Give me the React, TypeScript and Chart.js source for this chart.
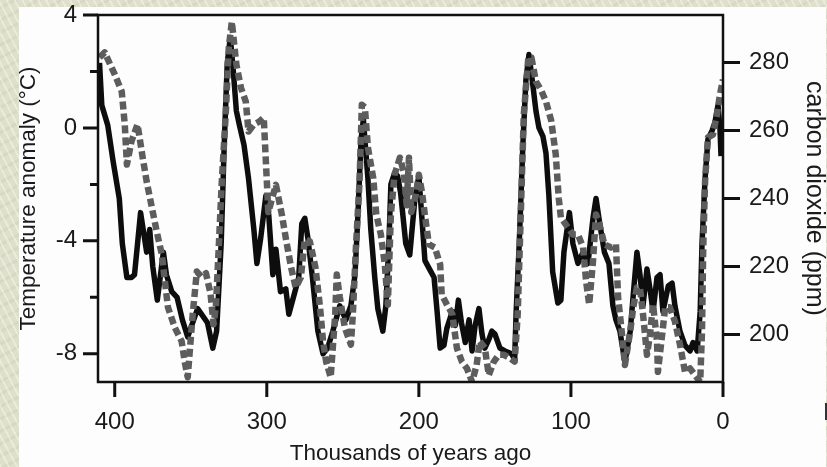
import React, { useEffect, useRef } from 'react';
import { Chart, registerables } from 'chart.js';

Chart.register(...registerables);

// Thousands of years ago (x) and temperature anomaly (°C)
const tempAges = [410, 408.5, 404.6, 401, 397, 395, 392, 389, 387, 385, 383, 381, 379, 377, 375, 372, 368, 366, 362.5, 359, 355.5, 352, 345.5, 339, 335.5, 333, 330, 328, 326, 324, 322, 320, 318, 315, 312, 308.5, 306.5, 304, 300.6, 298.7, 296, 294, 291, 287.5, 285.5, 282, 279, 277, 275, 273, 270, 266.4, 263, 260, 256.6, 252, 248, 244.7, 242, 240, 238, 236.5, 233.5, 231.6, 229, 227, 223.7, 221.7, 219.7, 218.4, 216, 214, 212, 208.6, 206, 202.6, 200, 198, 196, 193, 190, 188, 186, 183.5, 181.6, 178, 176, 174, 172, 169.5, 167, 165, 163, 160.5, 158.5, 156.6, 154, 152, 150, 146.7, 143.4, 139, 137, 136, 134, 131.6, 129.6, 127.6, 125, 123, 121, 118.4, 116.4, 114.5, 112, 108.6, 106.6, 104.6, 101, 98.7, 95.4, 92, 88.8, 85.5, 83.5, 81.6, 78, 75, 72.4, 70.4, 67.8, 64.5, 61, 59, 56.6, 54.6, 52.6, 50, 48, 46, 43.4, 41.4, 39.5, 36, 33.5, 31.6, 28.3, 25, 21.7, 19.7, 17, 15, 13.8, 11.8, 9.9, 7.2, 5.3, 3.3, 2, 1.3];
const tempAnomaly = [2.3, 0.8, 0.1, -1.2, -2.5, -4.1, -5.3, -5.3, -5.2, -4.1, -3.0, -3.7, -4.4, -3.6, -4.9, -6.1, -4.4, -5.2, -5.8, -6.0, -6.8, -7.4, -6.4, -6.9, -7.8, -7.2, -4.1, -0.6, 2.3, 3.2, 2.0, 0.6, 0.1, -0.6, -1.8, -3.6, -4.8, -3.9, -2.4, -3.1, -5.2, -4.3, -5.8, -5.7, -6.6, -5.9, -5.3, -3.4, -3.2, -3.9, -5.3, -7.2, -8.0, -7.8, -7.2, -6.3, -6.8, -6.3, -5.2, -3.0, -0.4, 0.3, -1.8, -3.6, -5.3, -6.4, -7.2, -6.3, -4.1, -2.0, -1.6, -1.7, -2.3, -4.1, -4.5, -2.5, -1.7, -3.2, -4.7, -5.0, -5.3, -6.5, -7.8, -7.7, -7.1, -6.5, -7.0, -6.1, -6.9, -7.6, -6.8, -7.9, -7.0, -6.4, -7.3, -7.8, -7.5, -7.2, -7.3, -7.8, -7.9, -8.0, -8.2, -6.5, -4.1, -0.6, 1.7, 2.6, 1.5, 0.6, 0.0, -0.3, -0.9, -2.4, -5.1, -6.2, -6.1, -4.4, -3.0, -4.1, -4.8, -4.4, -4.8, -3.2, -2.5, -3.2, -4.4, -4.8, -6.3, -6.8, -7.2, -8.3, -7.2, -5.9, -4.4, -5.2, -6.3, -5.0, -5.7, -6.5, -5.3, -5.2, -6.5, -5.6, -5.5, -6.3, -7.2, -7.7, -7.9, -7.6, -7.9, -6.5, -4.1, -1.8, -0.4, -0.1, 0.2, 0.8, 0.0, -1.0];

// Thousands of years ago (x) and carbon dioxide (ppm)
const co2Ages = [410, 406.6, 400, 395.4, 393.4, 392, 389, 385, 381.6, 379, 375.6, 372.4, 369, 367, 365, 360.5, 356, 354, 352, 348.7, 346, 343, 340, 337, 335, 333.5, 331.6, 329.6, 327, 325, 323, 320, 317, 313.8, 312, 308.5, 305, 302, 299, 294, 290, 287, 284, 281, 277.6, 275, 271.7, 268, 265, 263, 261, 258, 255, 254, 252, 248.7, 244.7, 243.4, 241.4, 239, 237.5, 235.5, 233.5, 230, 228, 225, 222.4, 220.4, 218.4, 216, 212.5, 210, 208, 206.5, 205, 202, 200, 198, 196, 193.4, 189.5, 186, 185, 181.6, 178, 175, 171.7, 168.4, 165, 162, 160, 156.6, 154, 150.7, 147.4, 144, 140, 137, 135, 133, 131, 128, 126, 123, 119.7, 116.4, 113, 110, 108, 106.6, 102, 98.7, 95.4, 92, 90, 88, 85.5, 83.5, 81.6, 78, 73.7, 70.4, 69, 66.4, 64.5, 61, 59, 56.6, 54.6, 52.6, 50, 48, 46, 43.4, 42.8, 40, 38, 35, 31.6, 28.3, 25, 21.7, 18.4, 15, 13.8, 13, 11.8, 9.9, 6.6, 4, 2, 0];
const co2Ppm = [281.5, 283, 276.5, 271.5, 261.8, 250, 256.8, 261.8, 252, 245, 237.4, 230.3, 223.5, 215.6, 208, 202, 198, 192, 187.4, 206, 218.5, 217, 218, 212, 203, 208, 225.6, 245, 264.7, 284.4, 292, 279.4, 272.6, 268.5, 259.7, 261.8, 262.6, 263.8, 236, 244, 235, 227, 219.7, 213.8, 216.8, 228, 227.4, 219.7, 208, 198, 192, 187.4, 206, 217.6, 211, 202, 197, 206, 225.6, 245, 267.6, 266.8, 255, 246, 235.3, 229.4, 220.6, 208.8, 235.3, 247, 252, 248, 238, 252, 236, 241, 247, 242, 235, 226.5, 225.6, 220.6, 211.8, 208.8, 206, 196, 192, 190, 186, 191, 198, 196, 188, 192, 194, 194, 193, 192, 206, 235, 264.7, 281.5, 281.5, 274.4, 272, 268.5, 263, 253, 240, 234.4, 231.5, 229.4, 229.4, 225.6, 215.6, 208.8, 221.5, 235.3, 233, 226.5, 225.6, 226.5, 211, 200, 191, 201, 208, 213.8, 213.8, 206, 194, 200, 208.8, 198, 189, 200, 208, 208, 203.8, 197, 189, 190, 188, 186, 201, 225.6, 245, 258, 258.8, 264.7, 270.6, 275];

const ageTicks = [400, 300, 200, 100, 0];
const tempTicks = [-8, -6, -4, -2, 0, 2, 4];
const tempTickLabels = ['-8', '', '-4', '', '0', '', '4'];
const co2Ticks = [200, 220, 240, 260, 280];
const co2TickLabels = ['200', '220', '240', '260', '280'];

const FONT = "'Liberation Sans', Arial, sans-serif";
const INK = '#1a1a1a';

const framePlugin = {
  id: 'frameTicks',
  afterDraw(chart: any) {
    const { ctx, chartArea: a, scales } = chart;
    ctx.save();
    ctx.strokeStyle = '#111';
    ctx.lineWidth = 2.5;
    ctx.strokeRect(a.left, a.top, a.right - a.left, a.bottom - a.top);
    ctx.lineWidth = 3;
    ctx.beginPath();
    scales.x.ticks.forEach((t: any) => {
      const px = scales.x.getPixelForValue(t.value);
      ctx.moveTo(px, a.bottom);
      ctx.lineTo(px, a.bottom + 15);
    });
    scales.y.ticks.forEach((t: any) => {
      const py = scales.y.getPixelForValue(t.value);
      const len = t.label ? 15 : 8;
      ctx.moveTo(a.left, py);
      ctx.lineTo(a.left - len, py);
    });
    scales.y2.ticks.forEach((t: any) => {
      const py = scales.y2.getPixelForValue(t.value);
      ctx.moveTo(a.right, py);
      ctx.lineTo(a.right + 17, py);
    });
    ctx.stroke();
    ctx.restore();
  },
};

const zeroPad = (s: any) => {
  s.paddingTop = 0;
  s.paddingBottom = 0;
  s.paddingLeft = 0;
  s.paddingRight = 0;
};

export default function App() {
  const ref = useRef<HTMLCanvasElement | null>(null);

  useEffect(() => {
    if (!ref.current) return;
    const tempData = tempAges.map((x, i) => ({ x, y: tempAnomaly[i] }));
    const co2Data = co2Ages.map((x, i) => ({ x, y: co2Ppm[i] }));
    const tickFont = { family: FONT, size: 24, lineHeight: 1.2 };
    const noGrid = { display: false, drawTicks: false, drawOnChartArea: false };
    const chart = new Chart(ref.current, {
      type: 'line',
      data: {
        datasets: [
          {
            label: 'carbon dioxide',
            data: co2Data,
            yAxisID: 'y2',
            borderColor: '#5d5d5d',
            borderWidth: 6.5,
            borderDash: [8, 4],
            borderCapStyle: 'butt',
            borderJoinStyle: 'round',
            pointRadius: 0,
            tension: 0,
            order: 0,
          },
          {
            label: 'temperature',
            data: tempData,
            yAxisID: 'y',
            borderColor: '#0d0d0d',
            borderWidth: 5.5,
            borderJoinStyle: 'round',
            pointRadius: 0,
            tension: 0,
            order: 1,
          },
        ],
      },
      plugins: [framePlugin],
      options: {
        animation: false,
        responsive: false,
        devicePixelRatio: 1,
        layout: { padding: { top: 15, left: 0, right: 0, bottom: 0 } },
        plugins: { legend: { display: false }, tooltip: { enabled: false } },
        scales: {
          x: {
            type: 'linear',
            reverse: true,
            min: 0,
            max: 411,
            grid: noGrid,
            border: { display: false },
            afterBuildTicks: (s: any) => { s.ticks = ageTicks.map((v) => ({ value: v })); },
            afterFit: (s: any) => { s.height = 85; zeroPad(s); },
            ticks: {
              autoSkip: false,
              maxRotation: 0,
              padding: 26,
              color: INK,
              font: tickFont,
              callback: (v: any) => String(v),
            },
            title: {
              display: true,
              text: 'Thousands of years ago',
              color: INK,
              font: { family: FONT, size: 22.5, lineHeight: 1.2 },
              padding: { top: 0, bottom: 0 },
            },
          },
          y: {
            type: 'linear',
            position: 'left',
            min: -9,
            max: 4,
            grid: noGrid,
            border: { display: false },
            afterBuildTicks: (s: any) => { s.ticks = tempTicks.map((v) => ({ value: v })); },
            afterFit: (s: any) => { s.width = 98; zeroPad(s); },
            ticks: {
              autoSkip: false,
              padding: 21,
              color: INK,
              font: tickFont,
              callback: (v: any) => {
                const i = tempTicks.indexOf(Number(v));
                return i >= 0 ? tempTickLabels[i] : '';
              },
            },
            title: {
              display: true,
              text: 'Temperature anomaly (°C)',
              color: INK,
              font: { family: FONT, size: 22.5, lineHeight: 1.2 },
              padding: { top: 15, bottom: 0 },
            },
          },
          y2: {
            type: 'linear',
            position: 'right',
            min: 186,
            max: 294,
            grid: noGrid,
            border: { display: false },
            afterBuildTicks: (s: any) => { s.ticks = co2Ticks.map((v) => ({ value: v })); },
            afterFit: (s: any) => { s.width = 104; zeroPad(s); },
            ticks: {
              autoSkip: false,
              padding: 26,
              color: INK,
              font: tickFont,
              callback: (v: any) => {
                const i = co2Ticks.indexOf(Number(v));
                return i >= 0 ? co2TickLabels[i] : '';
              },
            },
            title: {
              display: true,
              text: 'carbon dioxide (ppm)',
              color: INK,
              font: { family: FONT, size: 25, lineHeight: 1.0 },
              padding: { top: 0.5, bottom: 0 },
            },
          },
        },
      },
    } as any);
    return () => chart.destroy();
  }, []);

  return (
    <div
      style={{
        position: 'fixed',
        left: 0,
        top: 0,
        width: 827,
        height: 467,
        overflow: 'hidden',
        backgroundColor: '#dfe0cb',
        backgroundImage:
          'repeating-linear-gradient(62deg, rgba(255,255,250,0.35) 0px, rgba(255,255,250,0.35) 2px, rgba(0,0,0,0) 2px, rgba(0,0,0,0) 7px), repeating-linear-gradient(-28deg, rgba(200,202,180,0.35) 0px, rgba(200,202,180,0.35) 3px, rgba(0,0,0,0) 3px, rgba(0,0,0,0) 11px)',
      }}
    >
      <div style={{ position: 'absolute', left: 19, top: 7, width: 807, height: 460, background: '#fdfdfd' }} />
      <div style={{ position: 'absolute', left: 825, top: 403, width: 2, height: 17, background: '#333' }} />
      <canvas ref={ref} width={827} height={467} style={{ position: 'absolute', left: 0, top: 0 }} />
    </div>
  );
}
